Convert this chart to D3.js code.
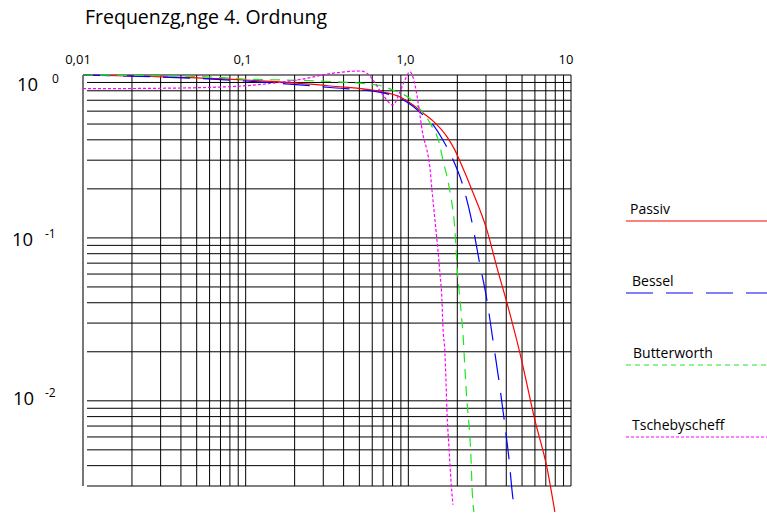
<!DOCTYPE html>
<html>
<head>
<meta charset="utf-8">
<script src="https://cdn.jsdelivr.net/npm/d3@7"></script>
<style>
  body { margin: 0; background: #fff; }
  svg { display: block; font-family: "Open Sans", sans-serif; }
  .grid line { stroke: #000; stroke-width: 1; }
  .curve { fill: none; stroke-width: 1.2; }
</style>
</head>
<body>
<div class="container"></div>
<script>
const WIDTH = 767,
      HEIGHT = 513;

// values (frequency normalised, amplitude linear)
const passivF = [0.01, 0.026, 0.1, 0.33, 0.70, 0.89, 1.07, 1.23, 1.46, 1.73, 1.93, 2.08, 2.46, 3.04, 3.51, 4.04, 4.85, 6.0, 7.11, 7.96];
const passivG = [1.0, 0.979, 0.932, 0.856, 0.786, 0.733, 0.654, 0.585, 0.508, 0.417, 0.347, 0.294, 0.197, 0.112, 0.0655, 0.0399, 0.0197, 0.0076, 0.0039, 0.00208];

const besselF = [0.01, 0.1, 0.33, 0.70, 1.02, 1.23, 1.42, 1.63, 1.85, 2.14, 2.46, 2.72, 3.04, 3.31, 3.60, 3.87, 4.15, 4.39, 4.52];
const besselG = [1.0, 0.919, 0.838, 0.776, 0.664, 0.569, 0.494, 0.399, 0.314, 0.2175, 0.1254, 0.0733, 0.0417, 0.0237, 0.01345, 0.00787, 0.00447, 0.00254, 0.00208];

const butterF = [0.01, 0.052, 0.1, 0.33, 0.67, 0.80, 1.02, 1.18, 1.38, 1.56, 1.63, 1.73, 1.83, 1.91, 1.96, 1.99, 2.05, 2.11, 2.17, 2.23, 2.29, 2.36, 2.43, 2.46, 2.53];
const butterG = [1.0, 0.979, 0.945, 0.912, 0.862, 0.809, 0.718, 0.618, 0.494, 0.372, 0.301, 0.237, 0.176, 0.129, 0.0906, 0.0683, 0.048, 0.0352, 0.0254, 0.0155, 0.0101, 0.00713, 0.00435, 0.00305, 0.00208];

const tschebF = [0.01, 0.0297, 0.080, 0.207, 0.38, 0.504, 0.557, 0.606, 0.698, 0.804, 0.887, 0.953, 1.023, 1.067, 1.129, 1.178, 1.23, 1.30, 1.358, 1.397, 1.437, 1.478, 1.52, 1.563, 1.609, 1.632, 1.679, 1.703, 1.726, 1.777, 1.827, 1.88];
const tschebG = [0.824, 0.829, 0.848, 0.932, 1.039, 1.058, 1.024, 0.932, 0.754, 0.655, 0.786, 0.932, 1.048, 0.972, 0.754, 0.568, 0.429, 0.347, 0.269, 0.197, 0.1485, 0.112, 0.0844, 0.061, 0.0417, 0.0284, 0.0197, 0.01345, 0.00881, 0.00522, 0.00328, 0.0023];

const seriesNames = ['Passiv', 'Bessel', 'Butterworth', 'Tschebyscheff'];
const seriesColors = ['#ff0000', '#0000ff', '#1ee61e', '#ff00ff'];
const seriesDash = [null, '27,13', '10,7', '3,2'];
const legendDash = [null, '27,13', '5,4', '3,2'];

const xTicks = [0.01, 0.1, 1, 10];
const xTickLabels = ['0,01', '0,1', '1,0', '10'];
const yTicks = [1, 0.1, 0.01];
const yTickExp = ['0', '-1', '-2'];

const title = 'Frequenzg,nge 4. Ordnung';

var svg = d3.select('.container').append('svg')
    .attr('width', WIDTH).attr('height', HEIGHT);

var x = d3.scaleLog().domain([0.01, 10]).range([83, 571]);
var y = d3.scaleLog().domain([0.003, 1]).range([486, 75]);

// minor+major log gridlines
function logLines(lo, hi) {
  var out = [];
  for (var e = Math.floor(Math.log10(lo)); e <= Math.ceil(Math.log10(hi)); e++) {
    for (var m = 1; m <= 9; m++) {
      var v = m * Math.pow(10, e);
      if (v >= lo * 0.999 && v <= hi * 1.001) out.push(v);
    }
  }
  return out;
}

var grid = svg.append('g').classed('grid', true);
grid.selectAll('.v').data(logLines(0.01, 10)).enter().append('line')
    .attr('x1', d => x(d)).attr('x2', d => x(d))
    .attr('y1', y(1)).attr('y2', y(0.003));
grid.selectAll('.h').data(logLines(0.003, 1)).enter().append('line')
    .attr('x1', d => d === 1 ? x(0.01) : x(0.01) + 4).attr('x2', x(10))
    .attr('y1', d => y(d)).attr('y2', d => y(d));
grid.append('line')
    .attr('x1', x(0.01)).attr('x2', x(0.01))
    .attr('y1', y(1)).attr('y2', y(0.003))
    .style('stroke', '#777').style('stroke-width', 2);

// axis labels
svg.selectAll('.xlab').data(xTicks).enter().append('text')
    .attr('x', (d, i) => x(d) - (i === 0 || i === 3 ? 5 : 3))
    .attr('y', 64)
    .attr('text-anchor', 'middle')
    .style('font-size', '13px')
    .text((d, i) => xTickLabels[i]);

var yNudge = [[17, 16, 52, 8], [12, 8, 45, 0], [13, 4, 45, -4]];
var ylab = svg.selectAll('.ylab').data(yTicks).enter().append('g');
ylab.append('text')
    .attr('x', (d, i) => yNudge[i][0])
    .attr('y', (d, i) => y(d) + yNudge[i][1])
    .style('font-size', '18.5px')
    .text('10');
ylab.append('text')
    .attr('x', (d, i) => yNudge[i][2])
    .attr('y', (d, i) => y(d) + yNudge[i][3])
    .style('font-size', '12px')
    .text((d, i) => yTickExp[i]);

svg.append('text')
    .attr('x', 85).attr('y', 24)
    .style('font-size', '19.5px')
    .text(title);

// curves
var line = d3.line().x(d => x(d[0])).y(d => y(d[1])).curve(d3.curveMonotoneX);
var seriesData = [
  [passivF, passivG], [besselF, besselG], [butterF, butterG], [tschebF, tschebG]
].map(s => s[0].map((f, i) => [f, s[1][i]]));

svg.selectAll('.curve').data(seriesData).enter().append('path')
    .classed('curve', true)
    .attr('d', line)
    .style('stroke', (d, i) => seriesColors[i])
    .style('stroke-dasharray', (d, i) => seriesDash[i]);

// legend
var legendY = [221, 293, 365, 437];
var legendTextX = [630, 632, 633, 632];
var leg = svg.selectAll('.leg').data(seriesNames).enter().append('g');
leg.append('line')
    .attr('x1', 626).attr('x2', WIDTH)
    .attr('y1', (d, i) => legendY[i]).attr('y2', (d, i) => legendY[i])
    .style('stroke', (d, i) => seriesColors[i])
    .style('stroke-width', 1)
    .style('stroke-dasharray', (d, i) => legendDash[i]);
leg.append('text')
    .attr('x', (d, i) => legendTextX[i])
    .attr('y', (d, i) => legendY[i] - 7)
    .style('font-size', '14px')
    .text(d => d);
</script>
</body>
</html>
